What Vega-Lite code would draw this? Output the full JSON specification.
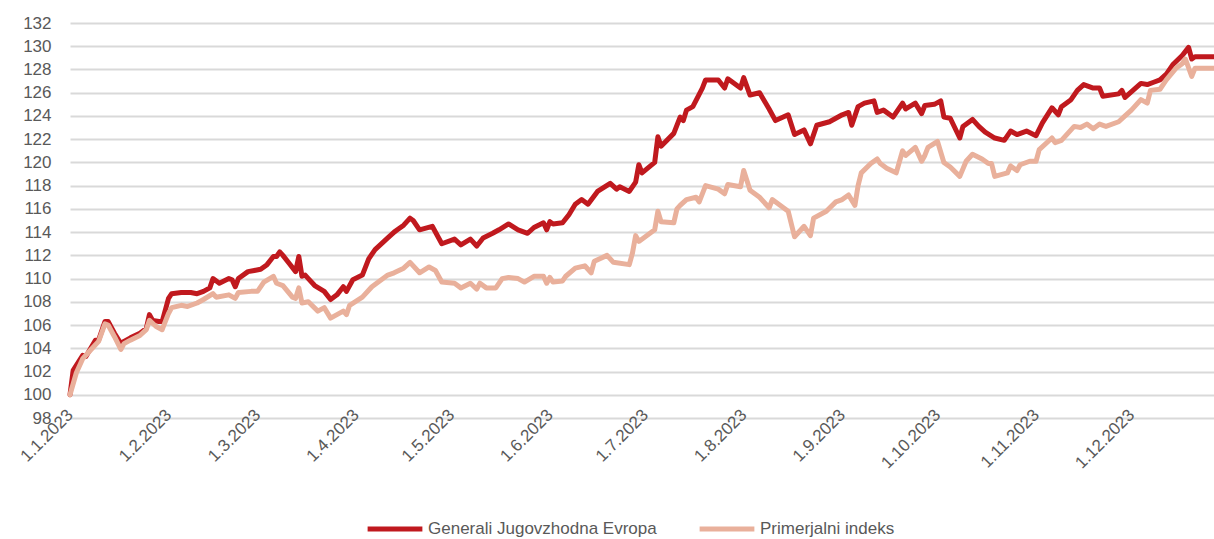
{
  "$schema": "https://vega.github.io/schema/vega-lite/v6.json",
  "width": 1144,
  "height": 395,
  "autosize": {"type": "none"},
  "padding": {"left": 70, "top": 23, "right": 0, "bottom": 121},
  "background": "white",
  "config": {"view": {"stroke": null}, "font": "Liberation Sans"},
  "datasets": {
    "gen": [
      {"date": "2023-01-01", "value": 100.0},
      {"date": "2023-01-02", "value": 102.1},
      {"date": "2023-01-05", "value": 103.4},
      {"date": "2023-01-06", "value": 103.3},
      {"date": "2023-01-09", "value": 104.7},
      {"date": "2023-01-10", "value": 104.7},
      {"date": "2023-01-12", "value": 106.3},
      {"date": "2023-01-13", "value": 106.3},
      {"date": "2023-01-15", "value": 105.3},
      {"date": "2023-01-17", "value": 104.4},
      {"date": "2023-01-18", "value": 104.6},
      {"date": "2023-01-20", "value": 104.9},
      {"date": "2023-01-23", "value": 105.3},
      {"date": "2023-01-25", "value": 105.7},
      {"date": "2023-01-26", "value": 106.9},
      {"date": "2023-01-27", "value": 106.4},
      {"date": "2023-01-29", "value": 106.3},
      {"date": "2023-01-30", "value": 106.3},
      {"date": "2023-02-01", "value": 108.3},
      {"date": "2023-02-02", "value": 108.7},
      {"date": "2023-02-05", "value": 108.8},
      {"date": "2023-02-08", "value": 108.8},
      {"date": "2023-02-10", "value": 108.7},
      {"date": "2023-02-12", "value": 108.9},
      {"date": "2023-02-14", "value": 109.2},
      {"date": "2023-02-15", "value": 110.0},
      {"date": "2023-02-17", "value": 109.6},
      {"date": "2023-02-20", "value": 110.0},
      {"date": "2023-02-21", "value": 109.9},
      {"date": "2023-02-22", "value": 109.3},
      {"date": "2023-02-23", "value": 110.0},
      {"date": "2023-02-26", "value": 110.6},
      {"date": "2023-02-28", "value": 110.7},
      {"date": "2023-03-02", "value": 110.8},
      {"date": "2023-03-04", "value": 111.2},
      {"date": "2023-03-06", "value": 111.9},
      {"date": "2023-03-07", "value": 111.9},
      {"date": "2023-03-08", "value": 112.3},
      {"date": "2023-03-09", "value": 112.0},
      {"date": "2023-03-11", "value": 111.3},
      {"date": "2023-03-13", "value": 110.6},
      {"date": "2023-03-14", "value": 111.9},
      {"date": "2023-03-15", "value": 110.2},
      {"date": "2023-03-16", "value": 110.3},
      {"date": "2023-03-17", "value": 110.0},
      {"date": "2023-03-19", "value": 109.4},
      {"date": "2023-03-22", "value": 108.9},
      {"date": "2023-03-24", "value": 108.2},
      {"date": "2023-03-26", "value": 108.6},
      {"date": "2023-03-28", "value": 109.3},
      {"date": "2023-03-29", "value": 108.9},
      {"date": "2023-03-31", "value": 109.9},
      {"date": "2023-04-03", "value": 110.3},
      {"date": "2023-04-05", "value": 111.7},
      {"date": "2023-04-07", "value": 112.5},
      {"date": "2023-04-11", "value": 113.5},
      {"date": "2023-04-13", "value": 114.0},
      {"date": "2023-04-14", "value": 114.2},
      {"date": "2023-04-16", "value": 114.6},
      {"date": "2023-04-18", "value": 115.2},
      {"date": "2023-04-19", "value": 115.0},
      {"date": "2023-04-21", "value": 114.2},
      {"date": "2023-04-25", "value": 114.5},
      {"date": "2023-04-28", "value": 113.0},
      {"date": "2023-05-02", "value": 113.4},
      {"date": "2023-05-04", "value": 112.9},
      {"date": "2023-05-07", "value": 113.4},
      {"date": "2023-05-09", "value": 112.8},
      {"date": "2023-05-11", "value": 113.5},
      {"date": "2023-05-14", "value": 113.9},
      {"date": "2023-05-16", "value": 114.2},
      {"date": "2023-05-19", "value": 114.7},
      {"date": "2023-05-22", "value": 114.2},
      {"date": "2023-05-25", "value": 113.9},
      {"date": "2023-05-27", "value": 114.4},
      {"date": "2023-05-30", "value": 114.8},
      {"date": "2023-05-31", "value": 114.2},
      {"date": "2023-06-01", "value": 114.9},
      {"date": "2023-06-02", "value": 114.7},
      {"date": "2023-06-05", "value": 114.8},
      {"date": "2023-06-07", "value": 115.5},
      {"date": "2023-06-09", "value": 116.4},
      {"date": "2023-06-11", "value": 116.8},
      {"date": "2023-06-13", "value": 116.4},
      {"date": "2023-06-16", "value": 117.5},
      {"date": "2023-06-20", "value": 118.2},
      {"date": "2023-06-22", "value": 117.7},
      {"date": "2023-06-23", "value": 117.9},
      {"date": "2023-06-26", "value": 117.5},
      {"date": "2023-06-28", "value": 118.3},
      {"date": "2023-06-29", "value": 119.8},
      {"date": "2023-06-30", "value": 119.1},
      {"date": "2023-07-04", "value": 120.0},
      {"date": "2023-07-05", "value": 122.2},
      {"date": "2023-07-06", "value": 121.4},
      {"date": "2023-07-10", "value": 122.5},
      {"date": "2023-07-12", "value": 123.9},
      {"date": "2023-07-13", "value": 123.6},
      {"date": "2023-07-14", "value": 124.5},
      {"date": "2023-07-16", "value": 124.8},
      {"date": "2023-07-19", "value": 126.4},
      {"date": "2023-07-20", "value": 127.1},
      {"date": "2023-07-24", "value": 127.1},
      {"date": "2023-07-26", "value": 126.4},
      {"date": "2023-07-27", "value": 127.2},
      {"date": "2023-07-31", "value": 126.4},
      {"date": "2023-08-01", "value": 127.3},
      {"date": "2023-08-03", "value": 125.8},
      {"date": "2023-08-06", "value": 126.0},
      {"date": "2023-08-09", "value": 124.6},
      {"date": "2023-08-11", "value": 123.6},
      {"date": "2023-08-15", "value": 124.1},
      {"date": "2023-08-17", "value": 122.4},
      {"date": "2023-08-20", "value": 122.8},
      {"date": "2023-08-22", "value": 121.6},
      {"date": "2023-08-24", "value": 123.2},
      {"date": "2023-08-28", "value": 123.5},
      {"date": "2023-08-30", "value": 123.8},
      {"date": "2023-09-01", "value": 124.1},
      {"date": "2023-09-03", "value": 124.3},
      {"date": "2023-09-04", "value": 123.2},
      {"date": "2023-09-06", "value": 124.8},
      {"date": "2023-09-08", "value": 125.1},
      {"date": "2023-09-11", "value": 125.3},
      {"date": "2023-09-12", "value": 124.3},
      {"date": "2023-09-14", "value": 124.5},
      {"date": "2023-09-17", "value": 123.9},
      {"date": "2023-09-20", "value": 125.1},
      {"date": "2023-09-21", "value": 124.6},
      {"date": "2023-09-24", "value": 125.1},
      {"date": "2023-09-26", "value": 124.2},
      {"date": "2023-09-27", "value": 124.9},
      {"date": "2023-09-30", "value": 125.0},
      {"date": "2023-10-02", "value": 125.3},
      {"date": "2023-10-03", "value": 123.9},
      {"date": "2023-10-05", "value": 123.8},
      {"date": "2023-10-08", "value": 122.1},
      {"date": "2023-10-09", "value": 123.1},
      {"date": "2023-10-12", "value": 123.7},
      {"date": "2023-10-14", "value": 123.1},
      {"date": "2023-10-16", "value": 122.6},
      {"date": "2023-10-19", "value": 122.1},
      {"date": "2023-10-22", "value": 121.9},
      {"date": "2023-10-24", "value": 122.7},
      {"date": "2023-10-26", "value": 122.4},
      {"date": "2023-10-29", "value": 122.7},
      {"date": "2023-11-01", "value": 122.3},
      {"date": "2023-11-03", "value": 123.4},
      {"date": "2023-11-06", "value": 124.7},
      {"date": "2023-11-08", "value": 124.1},
      {"date": "2023-11-09", "value": 124.8},
      {"date": "2023-11-12", "value": 125.4},
      {"date": "2023-11-14", "value": 126.2},
      {"date": "2023-11-16", "value": 126.7},
      {"date": "2023-11-19", "value": 126.4},
      {"date": "2023-11-21", "value": 126.4},
      {"date": "2023-11-22", "value": 125.7},
      {"date": "2023-11-27", "value": 125.9},
      {"date": "2023-11-28", "value": 126.2},
      {"date": "2023-11-29", "value": 125.6},
      {"date": "2023-12-04", "value": 126.8},
      {"date": "2023-12-06", "value": 126.7},
      {"date": "2023-12-08", "value": 126.9},
      {"date": "2023-12-10", "value": 127.1},
      {"date": "2023-12-12", "value": 127.6},
      {"date": "2023-12-14", "value": 128.4},
      {"date": "2023-12-17", "value": 129.2},
      {"date": "2023-12-19", "value": 129.9},
      {"date": "2023-12-20", "value": 128.9},
      {"date": "2023-12-21", "value": 129.1},
      {"date": "2023-12-27", "value": 129.1}
    ],
    "prim": [
      {"date": "2023-01-01", "value": 100.0},
      {"date": "2023-01-03", "value": 101.9},
      {"date": "2023-01-05", "value": 103.1},
      {"date": "2023-01-08", "value": 104.0},
      {"date": "2023-01-10", "value": 104.6},
      {"date": "2023-01-12", "value": 106.1},
      {"date": "2023-01-13", "value": 106.0},
      {"date": "2023-01-15", "value": 105.0},
      {"date": "2023-01-17", "value": 103.9},
      {"date": "2023-01-18", "value": 104.4},
      {"date": "2023-01-20", "value": 104.7},
      {"date": "2023-01-23", "value": 105.1},
      {"date": "2023-01-25", "value": 105.6},
      {"date": "2023-01-26", "value": 106.4},
      {"date": "2023-01-28", "value": 105.9},
      {"date": "2023-01-30", "value": 105.6},
      {"date": "2023-02-01", "value": 107.0},
      {"date": "2023-02-02", "value": 107.5},
      {"date": "2023-02-05", "value": 107.7},
      {"date": "2023-02-07", "value": 107.6},
      {"date": "2023-02-10", "value": 107.9},
      {"date": "2023-02-12", "value": 108.2},
      {"date": "2023-02-15", "value": 108.7},
      {"date": "2023-02-16", "value": 108.4},
      {"date": "2023-02-20", "value": 108.6},
      {"date": "2023-02-22", "value": 108.3},
      {"date": "2023-02-23", "value": 108.8},
      {"date": "2023-02-27", "value": 108.9},
      {"date": "2023-03-01", "value": 108.9},
      {"date": "2023-03-03", "value": 109.7},
      {"date": "2023-03-06", "value": 110.2},
      {"date": "2023-03-07", "value": 109.6},
      {"date": "2023-03-09", "value": 109.4},
      {"date": "2023-03-12", "value": 108.4},
      {"date": "2023-03-13", "value": 108.3},
      {"date": "2023-03-14", "value": 109.2},
      {"date": "2023-03-15", "value": 107.9},
      {"date": "2023-03-17", "value": 108.0},
      {"date": "2023-03-20", "value": 107.2},
      {"date": "2023-03-22", "value": 107.5},
      {"date": "2023-03-24", "value": 106.6},
      {"date": "2023-03-28", "value": 107.2},
      {"date": "2023-03-29", "value": 106.9},
      {"date": "2023-03-30", "value": 107.7},
      {"date": "2023-04-03", "value": 108.4},
      {"date": "2023-04-06", "value": 109.3},
      {"date": "2023-04-11", "value": 110.3},
      {"date": "2023-04-13", "value": 110.5},
      {"date": "2023-04-16", "value": 110.9},
      {"date": "2023-04-18", "value": 111.4},
      {"date": "2023-04-21", "value": 110.5},
      {"date": "2023-04-24", "value": 111.0},
      {"date": "2023-04-26", "value": 110.7},
      {"date": "2023-04-28", "value": 109.7},
      {"date": "2023-05-02", "value": 109.6},
      {"date": "2023-05-04", "value": 109.2},
      {"date": "2023-05-07", "value": 109.6},
      {"date": "2023-05-09", "value": 109.1},
      {"date": "2023-05-10", "value": 109.6},
      {"date": "2023-05-12", "value": 109.2},
      {"date": "2023-05-15", "value": 109.2},
      {"date": "2023-05-17", "value": 110.0},
      {"date": "2023-05-19", "value": 110.1},
      {"date": "2023-05-22", "value": 110.0},
      {"date": "2023-05-24", "value": 109.7},
      {"date": "2023-05-27", "value": 110.2},
      {"date": "2023-05-30", "value": 110.2},
      {"date": "2023-05-31", "value": 109.6},
      {"date": "2023-06-01", "value": 110.1},
      {"date": "2023-06-02", "value": 109.7},
      {"date": "2023-06-05", "value": 109.8},
      {"date": "2023-06-06", "value": 110.2},
      {"date": "2023-06-09", "value": 110.9},
      {"date": "2023-06-12", "value": 111.1},
      {"date": "2023-06-14", "value": 110.5},
      {"date": "2023-06-15", "value": 111.5},
      {"date": "2023-06-19", "value": 112.0},
      {"date": "2023-06-21", "value": 111.4},
      {"date": "2023-06-26", "value": 111.2},
      {"date": "2023-06-27", "value": 112.2},
      {"date": "2023-06-28", "value": 113.7},
      {"date": "2023-06-29", "value": 113.2},
      {"date": "2023-07-04", "value": 114.2},
      {"date": "2023-07-05", "value": 115.8},
      {"date": "2023-07-06", "value": 114.9},
      {"date": "2023-07-10", "value": 114.8},
      {"date": "2023-07-11", "value": 116.0},
      {"date": "2023-07-12", "value": 116.3},
      {"date": "2023-07-14", "value": 116.8},
      {"date": "2023-07-17", "value": 117.0},
      {"date": "2023-07-18", "value": 116.6},
      {"date": "2023-07-20", "value": 118.0},
      {"date": "2023-07-24", "value": 117.7},
      {"date": "2023-07-26", "value": 117.3},
      {"date": "2023-07-27", "value": 118.1},
      {"date": "2023-07-31", "value": 117.9},
      {"date": "2023-08-01", "value": 119.3},
      {"date": "2023-08-03", "value": 117.6},
      {"date": "2023-08-06", "value": 117.0},
      {"date": "2023-08-09", "value": 116.1},
      {"date": "2023-08-10", "value": 116.8},
      {"date": "2023-08-15", "value": 115.8},
      {"date": "2023-08-17", "value": 113.6},
      {"date": "2023-08-20", "value": 114.5},
      {"date": "2023-08-22", "value": 113.7},
      {"date": "2023-08-23", "value": 115.2},
      {"date": "2023-08-27", "value": 115.8},
      {"date": "2023-08-30", "value": 116.6},
      {"date": "2023-09-01", "value": 116.8},
      {"date": "2023-09-03", "value": 117.2},
      {"date": "2023-09-05", "value": 116.3},
      {"date": "2023-09-06", "value": 118.0},
      {"date": "2023-09-07", "value": 119.1},
      {"date": "2023-09-10", "value": 119.9},
      {"date": "2023-09-12", "value": 120.3},
      {"date": "2023-09-13", "value": 119.9},
      {"date": "2023-09-15", "value": 119.5},
      {"date": "2023-09-18", "value": 119.1},
      {"date": "2023-09-20", "value": 121.0},
      {"date": "2023-09-21", "value": 120.6},
      {"date": "2023-09-24", "value": 121.3},
      {"date": "2023-09-26", "value": 120.1},
      {"date": "2023-09-27", "value": 120.6},
      {"date": "2023-09-28", "value": 121.3},
      {"date": "2023-10-01", "value": 121.8},
      {"date": "2023-10-03", "value": 120.0},
      {"date": "2023-10-05", "value": 119.6},
      {"date": "2023-10-08", "value": 118.8},
      {"date": "2023-10-10", "value": 120.1},
      {"date": "2023-10-12", "value": 120.7},
      {"date": "2023-10-15", "value": 120.3},
      {"date": "2023-10-17", "value": 119.9},
      {"date": "2023-10-18", "value": 119.9},
      {"date": "2023-10-19", "value": 118.8},
      {"date": "2023-10-23", "value": 119.1},
      {"date": "2023-10-24", "value": 119.7},
      {"date": "2023-10-26", "value": 119.3},
      {"date": "2023-10-27", "value": 119.8},
      {"date": "2023-10-30", "value": 120.1},
      {"date": "2023-11-01", "value": 120.1},
      {"date": "2023-11-02", "value": 121.1},
      {"date": "2023-11-06", "value": 122.1},
      {"date": "2023-11-07", "value": 121.7},
      {"date": "2023-11-09", "value": 121.9},
      {"date": "2023-11-13", "value": 123.1},
      {"date": "2023-11-15", "value": 123.0},
      {"date": "2023-11-17", "value": 123.3},
      {"date": "2023-11-19", "value": 122.9},
      {"date": "2023-11-21", "value": 123.3},
      {"date": "2023-11-23", "value": 123.1},
      {"date": "2023-11-27", "value": 123.5},
      {"date": "2023-11-29", "value": 124.0},
      {"date": "2023-12-01", "value": 124.5},
      {"date": "2023-12-04", "value": 125.4},
      {"date": "2023-12-06", "value": 125.1},
      {"date": "2023-12-07", "value": 126.2},
      {"date": "2023-12-10", "value": 126.3},
      {"date": "2023-12-12", "value": 127.1},
      {"date": "2023-12-15", "value": 128.1},
      {"date": "2023-12-17", "value": 128.5},
      {"date": "2023-12-18", "value": 128.9},
      {"date": "2023-12-20", "value": 127.4},
      {"date": "2023-12-21", "value": 128.1},
      {"date": "2023-12-27", "value": 128.1}
    ]
  },
  "encoding": {
    "x": {
      "field": "date",
      "type": "temporal",
      "scale": {
        "type": "utc",
        "nice": false,
        "domain": [
          {"year": 2023, "month": 1, "date": 1, "utc": true},
          {"year": 2023, "month": 12, "date": 27, "utc": true}
        ]
      },
      "axis": {
        "title": null,
        "values": [
          {"year": 2023, "month": 1, "date": 1, "utc": true},
          {"year": 2023, "month": 2, "date": 1, "utc": true},
          {"year": 2023, "month": 3, "date": 1, "utc": true},
          {"year": 2023, "month": 4, "date": 1, "utc": true},
          {"year": 2023, "month": 5, "date": 1, "utc": true},
          {"year": 2023, "month": 6, "date": 1, "utc": true},
          {"year": 2023, "month": 7, "date": 1, "utc": true},
          {"year": 2023, "month": 8, "date": 1, "utc": true},
          {"year": 2023, "month": 9, "date": 1, "utc": true},
          {"year": 2023, "month": 10, "date": 1, "utc": true},
          {"year": 2023, "month": 11, "date": 1, "utc": true},
          {"year": 2023, "month": 12, "date": 1, "utc": true}
        ],
        "labelExpr": "utcFormat(datum.value, '%-d.%-m.%Y')",
        "labelAngle": -45,
        "labelAlign": "right",
        "labelBaseline": "middle",
        "labelPadding": -6,
        "labelFontSize": 17,
        "labelColor": "#595959",
        "labelFont": "Liberation Sans",
        "labelOverlap": false,
        "labelBound": false,
        "labelFlush": false,
        "ticks": false,
        "tickSize": 0,
        "domain": false,
        "grid": false
      }
    },
    "y": {
      "field": "value",
      "type": "quantitative",
      "scale": {"domain": [98, 132], "nice": false, "zero": false},
      "axis": {
        "title": null,
        "values": [98, 100, 102, 104, 106, 108, 110, 112, 114, 116, 118, 120, 122, 124, 126, 128, 130, 132],
        "labelFontSize": 17,
        "labelColor": "#595959",
        "labelFont": "Liberation Sans",
        "labelPadding": 19,
        "ticks": false,
        "tickSize": 0,
        "domain": false,
        "grid": true,
        "gridColor": "#d9d9d9",
        "gridWidth": 2,
        "labelOverlap": false,
        "labelBound": false,
        "labelFlush": false
      }
    }
  },
  "layer": [
    {
      "data": {"name": "gen"},
      "mark": {"type": "line", "strokeWidth": 5, "strokeJoin": "round", "strokeCap": "round"},
      "encoding": {
        "color": {
          "datum": "Generali Jugovzhodna Evropa",
          "scale": {
            "domain": ["Generali Jugovzhodna Evropa", "Primerjalni indeks"],
            "range": ["#C0191E", "#E9B09B"]
          },
          "legend": {
            "title": null,
            "orient": "none",
            "legendX": 295,
            "legendY": 476,
            "direction": "horizontal",
            "symbolType": "stroke",
            "symbolStrokeWidth": 5,
            "symbolSize": 3000,
            "labelFontSize": 17,
            "labelColor": "#595959",
            "labelFont": "Liberation Sans",
            "labelOffset": 3,
            "labelLimit": 400,
            "columnPadding": 32
          }
        }
      }
    },
    {
      "data": {"name": "prim"},
      "mark": {"type": "line", "strokeWidth": 5, "strokeJoin": "round", "strokeCap": "round"},
      "encoding": {
        "color": {"datum": "Primerjalni indeks"}
      }
    }
  ]
}
